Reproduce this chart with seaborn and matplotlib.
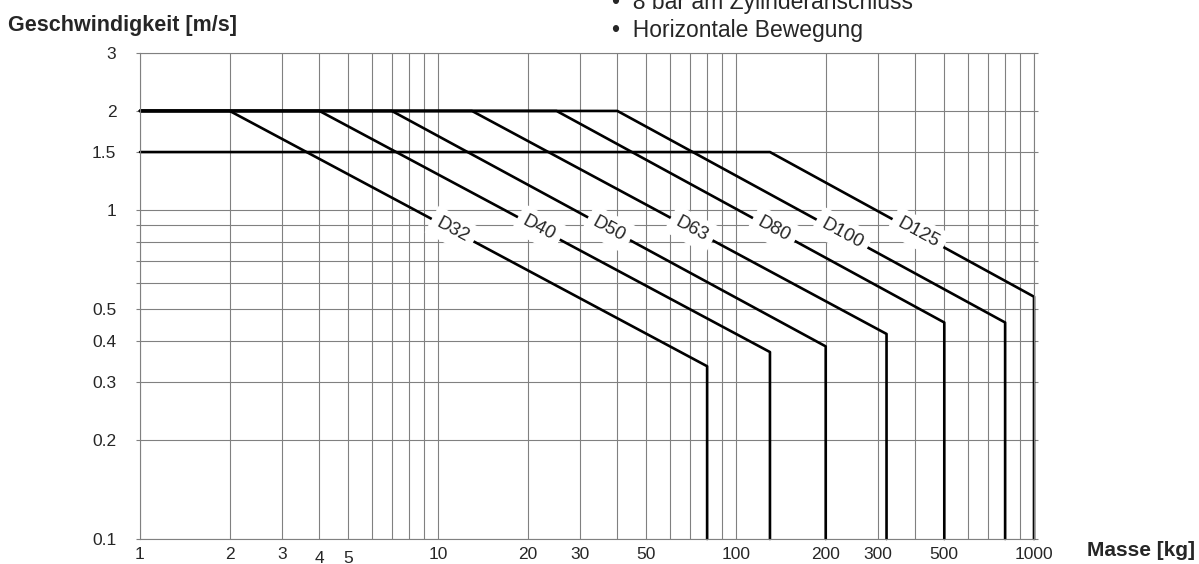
import numpy as np
import pandas as pd
import seaborn as sns
import matplotlib.pyplot as plt

# cylinder curves: max speed plateau, knee, end of slope (then straight down to 0.1)
names = ['D32', 'D40', 'D50', 'D63', 'D80', 'D100', 'D125']
v_max = [2, 2, 2, 2, 2, 2, 1.5]
knee_mass = [2, 4, 7, 13, 25, 40, 130]
end_mass = [80, 130, 200, 320, 500, 800, 1000]
end_speed = [0.335, 0.37, 0.385, 0.42, 0.455, 0.455, 0.545]
label_mass = [11.2, 21.8, 37.5, 71, 134, 227, 408]

x_major = [1, 2, 3, 4, 5, 10, 20, 30, 50, 100, 200, 300, 500, 1000]
x_minor = [6, 7, 8, 9, 40, 60, 70, 80, 90, 400, 600, 700, 800, 900]
y_major = [0.1, 0.2, 0.3, 0.4, 0.5, 1, 1.5, 2, 3]
y_minor = [0.6, 0.7, 0.8, 0.9]

sns.set_style('white')
plt.rcParams['font.family'] = ['Liberation Sans', 'DejaVu Sans']

# build path table
rows = []
for n, vm, km, em, ev in zip(names, v_max, knee_mass, end_mass, end_speed):
    pts = [(1, vm), (km, vm), (em, ev), (em, 0.1)]
    for i, (m, v) in enumerate(pts):
        rows.append({'cyl': n, 'order': i, 'masse': m, 'v': v})
df = pd.DataFrame(rows)

fig = plt.figure(figsize=(11.99, 5.64), dpi=100)
ax = fig.add_axes([140 / 1199, 1 - 539 / 564, (1034 - 140) / 1199, (539 - 53) / 564])
ax.set_xscale('log')
ax.set_yscale('log')
ax.set_xlim(1, 1000)
ax.set_ylim(0.1, 3)

grid_c = '#808080'
ax.set_xticks(x_major)
ax.set_xticks(x_minor, minor=True)
ax.set_yticks(y_major)
ax.set_yticks(y_minor, minor=True)
ax.set_xticklabels([str(v) for v in x_major])
ax.set_yticklabels([str(v) for v in y_major])
ax.xaxis.set_minor_formatter(plt.NullFormatter())
ax.yaxis.set_minor_formatter(plt.NullFormatter())
ax.grid(which='both', color=grid_c, lw=0.8)
for s in ax.spines.values():
    s.set_color(grid_c)
    s.set_linewidth(0.8)
ax.tick_params(axis='x', which='major', length=3, color=grid_c, width=0.8,
               pad=3, labelsize=12.5)
ax.tick_params(axis='x', which='minor', length=0)
ax.tick_params(axis='y', which='both', left=True, right=True, length=3,
               color=grid_c, width=0.8, pad=14, labelsize=12.5)
for t in ax.xaxis.get_major_ticks():
    if t.get_loc() in (4, 5):
        t.set_pad(5.5)

sns.lineplot(data=df, x='masse', y='v', units='cyl', estimator=None, sort=False,
             color='black', lw=1.9, ax=ax, legend=False)
for ln in ax.lines:
    ln.set_clip_on(False)
ax.set_xlabel('')
ax.set_ylabel('')

# rotated labels sitting on the slopes
for n, vm, km, em, ev, lm in zip(names, v_max, knee_mass, end_mass, end_speed, label_mass):
    slope = np.log(ev / vm) / np.log(em / km)
    lv = vm * (lm / km) ** slope
    p0 = ax.transData.transform((km, vm))
    p1 = ax.transData.transform((em, ev))
    ang = np.degrees(np.arctan2(p1[1] - p0[1], p1[0] - p0[0]))
    ax.text(lm, lv, n, rotation=ang, rotation_mode='anchor', ha='center', va='center',
            fontsize=13.5, zorder=5,
            bbox=dict(boxstyle='square,pad=0.35', fc='white', ec='none'))

fig.text(8 / 1199, 1 - 25 / 564, 'Geschwindigkeit [m/s]', fontsize=15.5,
         fontweight='bold', va='center', ha='left')
fig.text(1087 / 1199, 1 - 550 / 564, 'Masse [kg]', fontsize=15,
         fontweight='bold', va='center', ha='left')
fig.text(612 / 1199, 1 - 9 / 564, '\u2022  8 bar am Zylinderanschluss', fontsize=16.5,
         va='baseline', ha='left')
fig.text(612 / 1199, 1 - 37 / 564, '\u2022  Horizontale Bewegung', fontsize=16.5,
         va='baseline', ha='left')

fig.savefig('out.png', dpi=100)
